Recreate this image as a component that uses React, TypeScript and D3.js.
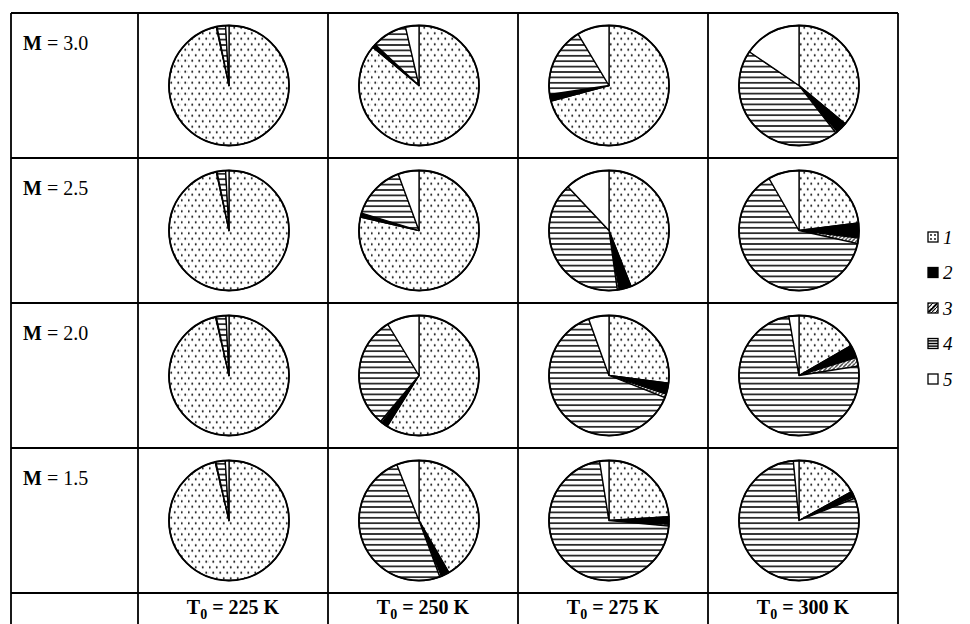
import React from 'react';
import * as d3 from 'd3';

// components of the mixture, clockwise from 12 o'clock
const components = ['1', '2', '3', '4', '5'];
const temperatures = ['225', '250', '275', '300'];
const machNumbers = ['3.0', '2.5', '2.0', '1.5'];

// shares (%) of components 1..5, one row per temperature
const sharesM30 = [
  [96.6, 0.2, 0, 2.3, 0.9],
  [86.0, 1.0, 0, 9.4, 3.6],
  [70.8, 1.8, 0, 18.8, 8.6],
  [36.0, 3.0, 0.5, 45.0, 15.5],
];
const sharesM25 = [
  [96.6, 0.2, 0, 2.3, 0.9],
  [78.6, 1.1, 0, 14.7, 5.6],
  [44.0, 3.3, 0.5, 40.2, 12.0],
  [23.0, 4.0, 1.5, 63.2, 8.3],
];
const sharesM20 = [
  [96.4, 0.2, 0, 2.6, 0.8],
  [58.9, 1.7, 0.5, 30.2, 8.7],
  [27.0, 3.0, 1.0, 63.5, 5.5],
  [16.7, 3.5, 2.3, 74.8, 2.7],
];
const sharesM15 = [
  [96.3, 0.2, 0, 2.5, 1.0],
  [41.7, 2.2, 0.5, 49.6, 6.0],
  [24.0, 2.0, 0.5, 71.0, 2.5],
  [17.0, 1.5, 0.5, 79.5, 1.5],
];
const sharesByMach = [sharesM30, sharesM25, sharesM20, sharesM15];

const fills = ['url(#dots)', '#000', 'url(#diag)', 'url(#hlines)', '#fff'];

const W = 970;
const H = 624;
const serif = '"Liberation Serif", "Times New Roman", serif';

const App: React.FC = () => {
  const x = d3.scaleBand<string>().domain(temperatures).range([138, 898]);
  const y = d3.scaleBand<string>().domain(machNumbers).range([13, 593]);
  const legendY = d3.scalePoint<string>().domain(components).range([237, 379]);
  const radius = 60;

  const pie = d3.pie<number>().sort(null).value(d => d);
  const arc = d3.arc<d3.PieArcDatum<number>>().innerRadius(0).outerRadius(radius);

  const left = 11;
  const right = x.range()[1];
  const bottom = H + 20;

  return (
    <svg width={W} height={H} style={{ position: 'absolute', left: 0, top: 0, background: '#fff' }}>
      <defs>
        <pattern id="dots" width={7} height={11} patternUnits="userSpaceOnUse">
          <rect width={7} height={11} fill="#fff" />
          <circle cx={1.75} cy={2.75} r={1} fill="#000" />
          <circle cx={5.25} cy={8.25} r={1} fill="#000" />
        </pattern>
        <pattern id="hlines" width={6} height={5.4} patternUnits="userSpaceOnUse">
          <rect width={6} height={5.4} fill="#fff" />
          <line x1={0} x2={6} y1={2.7} y2={2.7} stroke="#000" strokeWidth={1.5} />
        </pattern>
        <pattern id="diag" width={4} height={4} patternUnits="userSpaceOnUse">
          <rect width={4} height={4} fill="#fff" />
          <path d="M-1,5 L5,-1" stroke="#000" strokeWidth={1.1} />
        </pattern>
      </defs>

      {/* table grid */}
      <g stroke="#000" strokeWidth={1.8} fill="none">
        <line x1={left} x2={right} y1={y.range()[0]} y2={y.range()[0]} />
        {machNumbers.map(m => (
          <line key={m} x1={left} x2={right} y1={(y(m) ?? 0) + y.bandwidth()} y2={(y(m) ?? 0) + y.bandwidth()} />
        ))}
        <line x1={left} x2={left} y1={y.range()[0]} y2={bottom} />
        <line x1={x.range()[0]} x2={x.range()[0]} y1={y.range()[0]} y2={bottom} />
        {temperatures.map(t => (
          <line key={t} x1={(x(t) ?? 0) + x.bandwidth()} x2={(x(t) ?? 0) + x.bandwidth()} y1={y.range()[0]} y2={bottom} />
        ))}
      </g>

      {/* row labels */}
      {machNumbers.map(m => (
        <text key={m} x={23} y={(y(m) ?? 0) + 37} fontFamily={serif} fontSize={20} fill="#000">
          <tspan fontWeight="bold">M</tspan> = {m}
        </text>
      ))}

      {/* column labels */}
      {temperatures.map(t => (
        <text key={t} x={(x(t) ?? 0) + x.bandwidth() / 2} y={614} textAnchor="middle"
          fontFamily={serif} fontSize={20} fontWeight="bold" fill="#000">
          T<tspan fontSize={14} dy={5}>0</tspan><tspan dy={-5}> = {t} K</tspan>
        </text>
      ))}

      {/* pies */}
      {machNumbers.map((m, mi) =>
        temperatures.map((t, ti) => {
          const cx = (x(t) ?? 0) + x.bandwidth() / 2 - 4;
          const cy = (y(m) ?? 0) + y.bandwidth() / 2;
          const arcs = pie(sharesByMach[mi][ti]);
          return (
            <g key={m + t} transform={`translate(${cx},${cy})`}>
              {arcs.filter(a => a.data > 0).map(a => (
                <path key={a.index} d={arc(a) ?? ''} fill={fills[a.index]} stroke="#000" strokeWidth={1.3} strokeLinejoin="round" />
              ))}
              <circle r={radius} fill="none" stroke="#000" strokeWidth={1.8} />
            </g>
          );
        })
      )}

      {/* legend */}
      {components.map((c, i) => {
        const ly = legendY(c) ?? 0;
        return (
          <g key={c} transform={`translate(928,${ly})`}>
            <rect x={0} y={-5} width={10} height={10} fill={fills[i] === 'url(#dots)' ? '#fff' : fills[i]} stroke="#000" strokeWidth={1.3} />
            {i === 0 && (
              <g fill="#000">
                <circle cx={3} cy={-2} r={0.9} />
                <circle cx={7} cy={-2} r={0.9} />
                <circle cx={3} cy={2} r={0.9} />
                <circle cx={7} cy={2} r={0.9} />
              </g>
            )}
            {i === 2 && <path d="M1,4 L9,-4" stroke="#000" strokeWidth={1.5} />}
            {i === 3 && <line x1={0} x2={10} y1={0} y2={0} stroke="#000" strokeWidth={1.5} />}
            <text x={15} y={6.5} fontFamily={serif} fontStyle="italic" fontSize={19} fill="#000">{c}</text>
          </g>
        );
      })}
    </svg>
  );
};

export default App;
